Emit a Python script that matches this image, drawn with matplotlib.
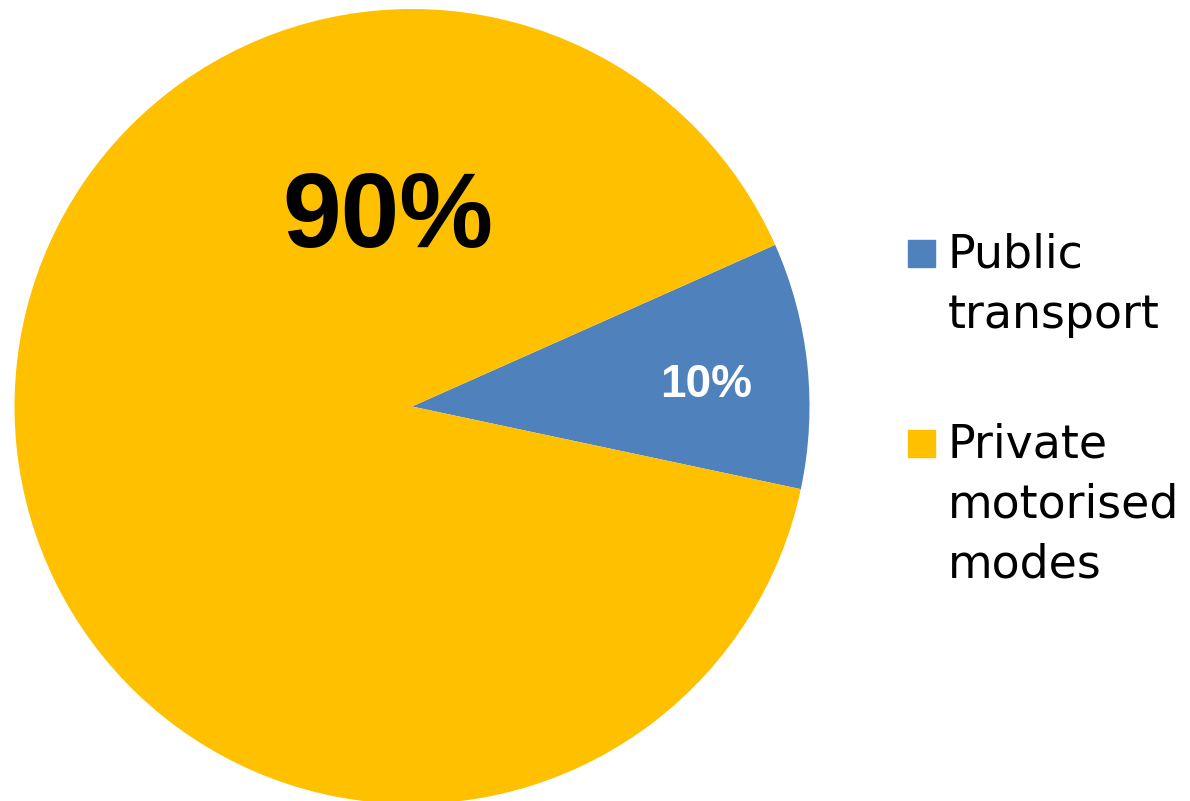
import matplotlib
matplotlib.use("Agg")
import matplotlib.pyplot as plt
from matplotlib.patches import Rectangle

# Data
labels = ["Public\ntransport", "Private\nmotorised\nmodes"]
shares = [10, 90]
colors = ["#4F81BD", "#FFC000"]

W, H = 1190, 801
fig = plt.figure(figsize=(W / 100, H / 100), dpi=100)
# pie: centre around (412, 406) px, radius ~397 px
ax = fig.add_axes([14.5 / W, -3 / H, 795 / W, 795 / H])

wedges, texts, autotexts = ax.pie(
    shares, colors=colors, startangle=-12, counterclock=True,
    autopct="%d%%", pctdistance=0.74,
    wedgeprops=dict(linewidth=0),
    textprops=dict(family="Liberation Sans", weight="bold"))
ax.set_aspect("equal")
ax.set_xlim(-1, 1)
ax.set_ylim(-1, 1)

autotexts[0].set_color("white")
autotexts[0].set_fontsize(33)
autotexts[0].set_position((0.74, 0.055))
autotexts[1].set_color("black")
autotexts[1].set_fontsize(76)
autotexts[1].set_position((-0.06, 0.47))

# Legend, square aligned with first line of each label
tops = [240, 430]
for lab, col, top in zip(labels, colors, tops):
    fig.patches.append(Rectangle((908 / W, 1 - (top + 27) / H), 27 / W, 27 / H,
                                 transform=fig.transFigure, color=col))
    fig.text(948 / W, 1 - (top - 7) / H, lab, fontsize=33, va="top", ha="left",
             family="DejaVu Sans", linespacing=1.42)

fig.savefig("out.png", dpi=100)
